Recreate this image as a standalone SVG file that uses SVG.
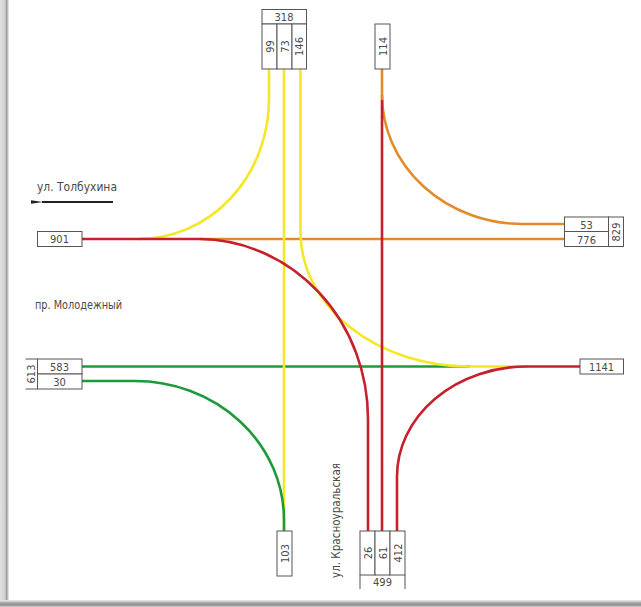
<svg xmlns="http://www.w3.org/2000/svg" width="641" height="607" viewBox="0 0 641 607">
<defs>
<style>
.box{fill:#fff;stroke:#555;stroke-width:1}
.ln{fill:none;stroke:#555;stroke-width:1}
.t{font-family:"Liberation Sans Narrow","DejaVu Sans Condensed","Liberation Sans",sans-serif;font-size:11px;fill:#4a4a4a;text-anchor:middle}
.lbl{font-family:"Liberation Sans Narrow","DejaVu Sans Condensed","Liberation Sans",sans-serif;font-size:12px;fill:#4a4a4a}
.f{fill:none;stroke-width:2.6;stroke-linecap:butt}
.y{stroke:#f4e826}
.r{stroke:#c5202b}
.o{stroke:#e38b2c}
.g{stroke:#1e9a3c}
</style>
<marker id="ah" viewBox="0 0 12 6" refX="1" refY="3" markerWidth="12" markerHeight="6" markerUnits="userSpaceOnUse" orient="auto">
<path d="M12 1.2 L0 3 L12 4.8 Z" fill="#222"/>
</marker>
<linearGradient id="lb" x1="0" x2="1" y1="0" y2="0">
<stop offset="0" stop-color="#e2e2e2"/><stop offset="0.55" stop-color="#d0d0d0"/><stop offset="0.75" stop-color="#9a9a9a"/><stop offset="1" stop-color="#f4f4f4"/>
</linearGradient>
<linearGradient id="bb" x1="0" x2="0" y1="0" y2="1">
<stop offset="0" stop-color="#f0f0f0"/><stop offset="0.4" stop-color="#a8a8a8"/><stop offset="0.7" stop-color="#8c8c8c"/><stop offset="1" stop-color="#cfcfcf"/>
</linearGradient>
</defs>
<rect x="0" y="0" width="641" height="607" fill="#fff"/>
<rect x="0" y="0" width="9" height="607" fill="url(#lb)"/>
<rect x="0" y="600" width="641" height="7" fill="url(#bb)"/>

<g id="connectors">
<path class="f o" d="M200 239 H565"/>
<path class="f y" d="M269 69 V99 A130 140 0 0 1 139 239"/>
<path class="f g" d="M82 366.5 H470"/>
<path class="f y" d="M300.5 69 V232 A168 134.5 0 0 0 468.5 366.5 H527"/>
<path class="f y" d="M284 69 V531"/>
<path class="f o" d="M382 69 V100"/>
<path class="f o" d="M382 95 A141 129 0 0 0 523 224 H565"/>
<path class="f r" d="M382 100 V531"/>
<path class="f r" d="M82 239 H200 A170 180 0 0 1 368 419 V531"/>
<path class="f r" d="M580 366.5 H527 A130 110 0 0 0 397 476.5 V531"/>
<path class="f g" d="M82 381 H135 A149 139 0 0 1 284 520 V531"/>
</g>

<g id="arrow">
<line x1="113" y1="202" x2="42" y2="202" stroke="#222" stroke-width="2" marker-end="url(#ah)"/>
</g>
<g id="labels">
<text class="lbl" x="37" y="191" textLength="80" lengthAdjust="spacingAndGlyphs">ул. Толбухина</text>
<text class="lbl" x="35" y="309" font-size="11" textLength="87" lengthAdjust="spacingAndGlyphs">пр. Молодежный</text>
<text class="lbl" transform="translate(340,578) rotate(-90)" x="0" y="0" textLength="115" lengthAdjust="spacingAndGlyphs">ул. Красноуральская</text>
</g>

<g id="node-north">
<rect class="box" x="262" y="9.5" width="44.5" height="14.5"/>
<text class="t" x="284" y="21">318</text>
<rect class="box" x="262" y="24" width="15" height="45"/>
<rect class="box" x="277" y="24" width="15" height="45"/>
<rect class="box" x="292" y="24" width="14.5" height="45"/>
<text class="t" transform="translate(273.5,46.5) rotate(-90)">99</text>
<text class="t" transform="translate(288.5,46.5) rotate(-90)">73</text>
<text class="t" transform="translate(303,46.5) rotate(-90)">146</text>
</g>

<g id="node-114">
<rect class="box" x="375" y="24" width="15" height="45"/>
<text class="t" transform="translate(386.5,46.5) rotate(-90)">114</text>
</g>

<g id="node-east-top">
<rect class="box" x="564.5" y="217" width="44" height="14.5"/>
<rect class="box" x="564.5" y="231.5" width="44" height="15"/>
<rect class="box" x="608.5" y="217" width="15" height="29.5"/>
<text class="t" x="586.5" y="228.5">53</text>
<text class="t" x="586.5" y="243.5">776</text>
<text class="t" transform="translate(620,232) rotate(-90)">829</text>
</g>

<g id="node-901">
<rect class="box" x="37.5" y="231.5" width="44.5" height="15"/>
<text class="t" x="59.5" y="243">901</text>
</g>

<g id="node-west-bottom">
<rect class="box" x="37.5" y="359" width="44.5" height="15"/>
<rect class="box" x="37.5" y="374" width="44.5" height="15"/>
<path class="ln" d="M37.5 359 H25.5 M37.5 389 H25.5"/>
<text class="t" x="59.5" y="370.5">583</text>
<text class="t" x="59.5" y="385.5">30</text>
<text class="t" transform="translate(34.5,374) rotate(-90)">613</text>
</g>

<g id="node-1141">
<rect class="box" x="580" y="359" width="43.5" height="15"/>
<text class="t" x="601.5" y="370.5">1141</text>
</g>

<g id="node-103">
<rect class="box" x="277" y="531" width="15" height="45"/>
<text class="t" transform="translate(288.5,553.5) rotate(-90)">103</text>
</g>

<g id="node-south">
<rect class="box" x="360" y="531" width="15" height="44"/>
<rect class="box" x="375" y="531" width="15" height="44"/>
<rect class="box" x="390" y="531" width="15" height="44"/>
<path class="ln" d="M360 575 V589 M405 575 V589"/>
<text class="t" transform="translate(371.5,553) rotate(-90)">26</text>
<text class="t" transform="translate(386.5,553) rotate(-90)">61</text>
<text class="t" transform="translate(401.5,553) rotate(-90)">412</text>
<text class="t" x="382.5" y="586">499</text>
</g>
</svg>
